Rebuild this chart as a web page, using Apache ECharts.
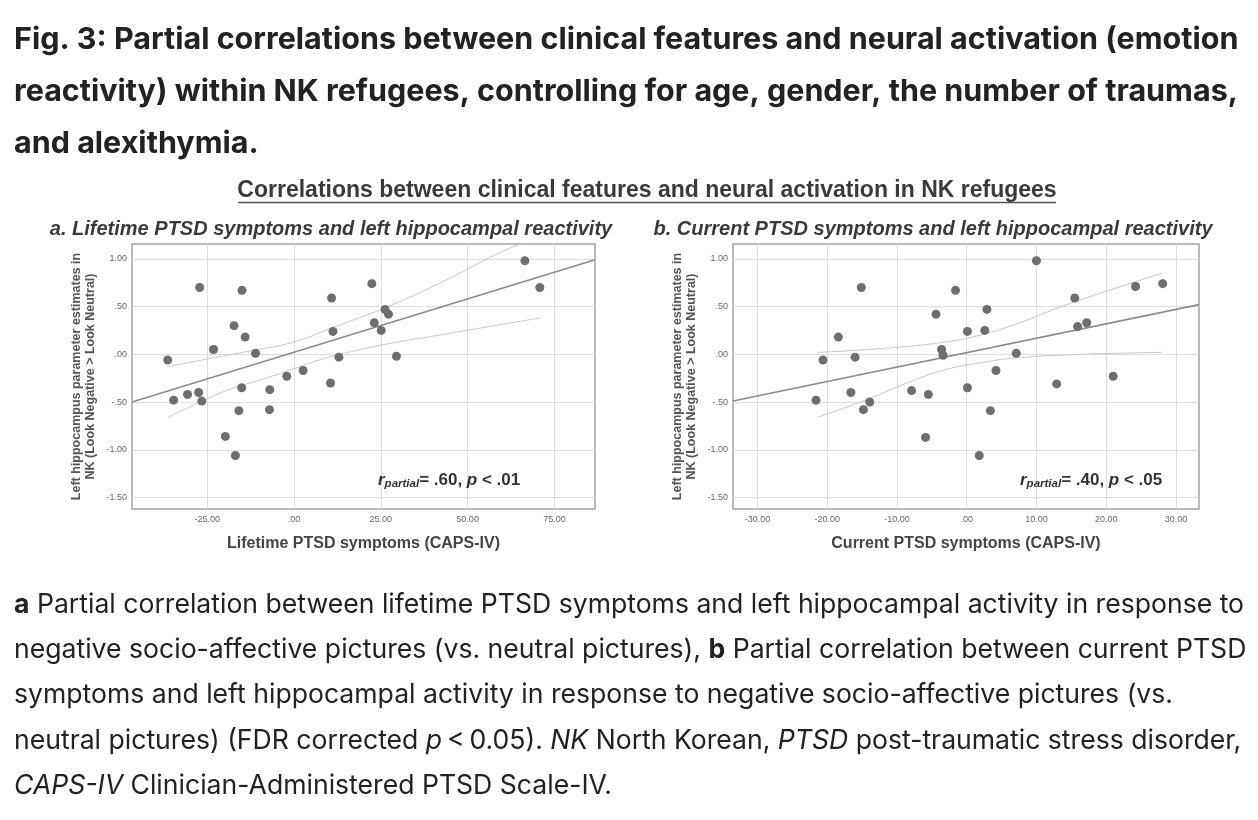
<!DOCTYPE html>
<html>
<head>
<meta charset="utf-8">
<script src="https://cdn.jsdelivr.net/npm/echarts@6/dist/echarts.min.js"></script>
<style>
html, body { margin: 0; padding: 0; background: #fff; }
#main { width: 1258px; height: 820px; }
</style>
</head>
<body>
<div id="main"></div>
<script>
// values
var lifetimeX = [-36.4, -34.7, -30.7, -27.5, -26.6, -27.2, -23.2, -19.8, -17.3, -16.9, -15.9, -15.1, -15.0, -14.1, -11.1, -7.0, -7.1, -2.1, 2.6, 10.5, 10.8, 11.2, 12.9, 22.4, 23.1, 25.1, 26.2, 27.2, 29.5, 66.5, 70.8];
var lifetimeY = [-0.06, -0.48, -0.42, -0.40, -0.49, 0.70, 0.05, -0.86, 0.30, -1.06, -0.59, -0.35, 0.67, 0.18, 0.01, -0.37, -0.58, -0.23, -0.17, -0.30, 0.59, 0.24, -0.03, 0.74, 0.33, 0.25, 0.47, 0.42, -0.02, 0.98, 0.70];

var currentX = [-21.6, -20.6, -18.4, -16.6, -16.0, -15.1, -14.8, -13.9, -7.9, -5.9, -5.5, -4.4, -3.6, -3.4, -1.6, 0.1, 0.1, 1.8, 2.6, 2.9, 3.4, 4.2, 7.1, 10.0, 12.9, 15.5, 15.9, 17.2, 21.0, 24.2, 28.1];
var currentY = [-0.48, -0.06, 0.18, -0.40, -0.03, 0.70, -0.58, -0.50, -0.38, -0.87, -0.42, 0.42, 0.05, -0.01, 0.67, 0.24, -0.35, -1.06, 0.25, 0.47, -0.59, -0.17, 0.01, 0.98, -0.31, 0.59, 0.29, 0.33, -0.23, 0.71, 0.74];

// fit line and 95% CI curves
var lifetimeFit = [[-46.7, -0.50], [86.7, 0.99]];
var lifetimeUpper = [[-36.3, -0.13], [-23, -0.035], [-12, 0.04], [0, 0.13], [11.8, 0.29], [25.7, 0.48], [41.7, 0.74], [59.3, 1.066], [65.3, 1.155]];
var lifetimeLower = [[-36.3, -0.66], [-27, -0.50], [-18, -0.36], [-9, -0.26], [0, -0.15], [9, -0.04], [18, 0.04], [27, 0.11], [41.7, 0.20], [59.3, 0.31], [70.9, 0.38]];

var currentFit = [[-33.5, -0.49], [33.3, 0.52]];
var currentUpper = [[-21.4, 0.02], [-10.5, 0.07], [-3.0, 0.13], [1.9, 0.20], [6.8, 0.31], [11.8, 0.45], [16.7, 0.58], [21.7, 0.70], [28.0, 0.85]];
var currentLower = [[-21.4, -0.66], [-14.9, -0.49], [-8.0, -0.285], [-3.0, -0.16], [1.9, -0.09], [6.8, -0.04], [16.7, 0.0], [28.0, 0.02]];

var yTicks = [-1.5, -1, -0.5, 0, 0.5, 1];
var lifetimeTicks = [-25, 0, 25, 50, 75];
var currentTicks = [-30, -20, -10, 0, 10, 20, 30];

var FONT = '"Liberation Sans", Arial, sans-serif';
var PAGE_FONT = 'Inter, "Noto Sans", sans-serif';

function zip(xs, ys) {
    var out = [];
    for (var i = 0; i < xs.length; i++) {
        out.push([xs[i], ys[i]]);
    }
    return out;
}

// SPSS style numbers: ".50", "-1.00"
function spss(v) {
    var s = Math.abs(v).toFixed(2);
    if (s.charAt(0) == '0') s = s.slice(1);
    return (v < 0 ? '-' : '') + s;
}

function xAxisFor(idx, min, max, ticks, name) {
    return {
        type: 'value', gridIndex: idx, min: min, max: max,
        axisLine: { show: false },
        axisTick: { show: false, customValues: ticks },
        axisLabel: { customValues: ticks, formatter: spss, fontSize: 9, color: '#666', margin: 6, fontFamily: FONT },
        splitLine: { show: true, lineStyle: { color: '#dcdcdc', width: 1 } },
        name: name, nameLocation: 'middle', nameGap: 27,
        nameTextStyle: { fontSize: 16, fontWeight: 'bold', color: '#444', fontFamily: FONT }
    };
}

function yAxisFor(idx) {
    return {
        type: 'value', gridIndex: idx, min: -1.62, max: 1.155,
        axisLine: { show: false },
        axisTick: { show: false, customValues: yTicks },
        axisLabel: { customValues: yTicks, formatter: spss, fontSize: 9, color: '#666', margin: 5, fontFamily: FONT },
        splitLine: { show: true, lineStyle: { color: '#dcdcdc', width: 1 } },
        name: 'Left hippocampus parameter estimates in\nNK (Look Negative > Look Neutral)',
        nameLocation: 'middle', nameGap: 34,
        nameTextStyle: { fontSize: 12.5, fontWeight: 'bold', color: '#555', lineHeight: 14, fontFamily: FONT }
    };
}

function scatter(idx, data) {
    return {
        type: 'scatter', xAxisIndex: idx, yAxisIndex: idx, data: data,
        symbolSize: 9, itemStyle: { color: '#6e6e6e', opacity: 1 }, z: 5
    };
}

function line(idx, data, color, width, smooth) {
    return {
        type: 'line', xAxisIndex: idx, yAxisIndex: idx, data: data,
        symbol: 'none', smooth: smooth, clip: true,
        lineStyle: { color: color, width: width }, z: 3
    };
}

function pageText(x, y, text, size, weight, rich) {
    return {
        type: 'text', x: x, y: y,
        style: {
            text: text, fontSize: size, fontWeight: weight, fontFamily: PAGE_FONT, fill: '#222',
            textVerticalAlign: 'middle', verticalAlign: 'middle', rich: rich || {}
        }
    };
}

var CAP = 26.6;
var capRich = {
    b: { fontSize: CAP, fontWeight: 'bold', fontFamily: PAGE_FONT, fill: '#222' },
    i: { fontSize: CAP, fontStyle: 'italic', fontFamily: PAGE_FONT, fill: '#222' }
};

var statRich = {
    r: { fontSize: 17, fontStyle: 'italic', fontWeight: 'bold', fontFamily: FONT, fill: '#333', lineHeight: 20 },
    sub: { fontSize: 11.5, fontStyle: 'italic', fontWeight: 'bold', fontFamily: FONT, fill: '#333', verticalAlign: 'bottom', lineHeight: 11 },
    t: { fontSize: 17, fontWeight: 'bold', fontFamily: FONT, fill: '#333', lineHeight: 20 },
    p: { fontSize: 17, fontStyle: 'italic', fontWeight: 'bold', fontFamily: FONT, fill: '#333', lineHeight: 20 }
};

var chart = echarts.init(document.getElementById('main'));

chart.setOption({
    backgroundColor: '#fff',
    animation: false,
    grid: [
        { left: 132, top: 244, width: 463, height: 265, show: true, borderColor: '#a3a3a3', borderWidth: 1.5 },
        { left: 733, top: 244, width: 466, height: 265, show: true, borderColor: '#a3a3a3', borderWidth: 1.5 }
    ],
    xAxis: [
        xAxisFor(0, -46.7, 86.7, lifetimeTicks, 'Lifetime PTSD symptoms (CAPS-IV)'),
        xAxisFor(1, -33.5, 33.3, currentTicks, 'Current PTSD symptoms (CAPS-IV)')
    ],
    yAxis: [yAxisFor(0), yAxisFor(1)],
    series: [
        line(0, lifetimeUpper, '#c8c8c8', 1, true),
        line(0, lifetimeLower, '#c8c8c8', 1, true),
        line(0, lifetimeFit, '#8c8c8c', 1.6, false),
        scatter(0, zip(lifetimeX, lifetimeY)),
        line(1, currentUpper, '#c8c8c8', 1, true),
        line(1, currentLower, '#c8c8c8', 1, true),
        line(1, currentFit, '#8c8c8c', 1.6, false),
        scatter(1, zip(currentX, currentY))
    ],
    graphic: [
        pageText(14, 40, 'Fig. 3: Partial correlations between clinical features and neural activation (emotion', 30.5, 'bold'),
        pageText(14, 92, 'reactivity) within NK refugees, controlling for age, gender, the number of traumas,', 30.5, 'bold'),
        pageText(14, 144, 'and alexithymia.', 30.5, 'bold'),
        {
            type: 'text', x: 647, y: 191,
            style: { text: 'Correlations between clinical features and neural activation in NK refugees', fontSize: 23, fontWeight: 'bold', fontFamily: FONT, fill: '#3a3a3a', textAlign: 'center', align: 'center', textVerticalAlign: 'middle', verticalAlign: 'middle' }
        },
        { type: 'line', shape: { x1: 238, y1: 202.5, x2: 1056, y2: 202.5 }, style: { stroke: '#555', lineWidth: 1.3 } },
        {
            type: 'text', x: 331, y: 229,
            style: { text: 'a. Lifetime PTSD symptoms and left hippocampal reactivity', fontSize: 20, fontWeight: 'bold', fontStyle: 'italic', fontFamily: FONT, fill: '#3a3a3a', textAlign: 'center', align: 'center', textVerticalAlign: 'middle', verticalAlign: 'middle' }
        },
        {
            type: 'text', x: 933, y: 229,
            style: { text: 'b. Current PTSD symptoms and left hippocampal reactivity', fontSize: 20, fontWeight: 'bold', fontStyle: 'italic', fontFamily: FONT, fill: '#3a3a3a', textAlign: 'center', align: 'center', textVerticalAlign: 'middle', verticalAlign: 'middle' }
        },
        {
            type: 'text', x: 378, y: 480, z: 10,
            style: { text: '{r|r}{sub|partial}{t|= .60, }{p|p}{t| < .01}', rich: statRich, textVerticalAlign: 'middle', verticalAlign: 'middle' }
        },
        {
            type: 'text', x: 1020, y: 480, z: 10,
            style: { text: '{r|r}{sub|partial}{t|= .40, }{p|p}{t| < .05}', rich: statRich, textVerticalAlign: 'middle', verticalAlign: 'middle' }
        },
        pageText(14, 605, '{b|a} Partial correlation between lifetime PTSD symptoms and left hippocampal activity in response to', CAP, 'normal', capRich),
        pageText(14, 650, 'negative socio-affective pictures (vs. neutral pictures), {b|b} Partial correlation between current PTSD', CAP, 'normal', capRich),
        pageText(14, 695, 'symptoms and left hippocampal activity in response to negative socio-affective pictures (vs.', CAP, 'normal', capRich),
        pageText(14, 741, 'neutral pictures) (FDR corrected {i|p}\u2009<\u20090.05). {i|NK} North Korean, {i|PTSD} post-traumatic stress disorder,', CAP, 'normal', capRich),
        pageText(14, 786, '{i|CAPS-IV} Clinician-Administered PTSD Scale-IV.', CAP, 'normal', capRich)
    ]
});
</script>
</body>
</html>
